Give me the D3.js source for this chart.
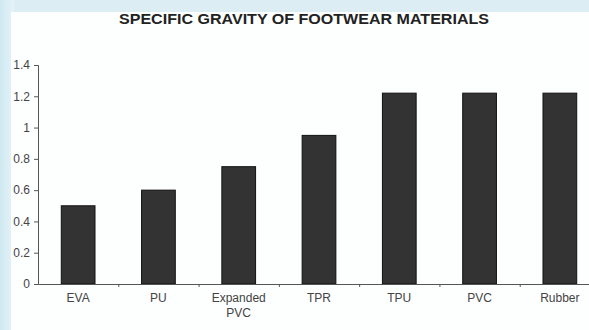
<!DOCTYPE html>
<html><head><meta charset="utf-8">
<script src="https://cdn.jsdelivr.net/npm/d3@7"></script>
<style>
html,body{margin:0;padding:0;background:#d9edf4;}
svg{display:block;}
</style></head>
<body>
<svg id="c" width="589" height="330"></svg>
<script>
const categories = ["EVA","PU","Expanded PVC","TPR","TPU","PVC","Rubber"];
const values = [0.5, 0.6, 0.75, 0.95, 1.22, 1.22, 1.22];
const yTicks = [0,0.2,0.4,0.6,0.8,1,1.2,1.4];
const yTickLabels = ["0","0.2","0.4","0.6","0.8","1","1.2","1.4"];
const title = "SPECIFIC GRAVITY OF FOOTWEAR MATERIALS";

const svg = d3.select("#c");
const defs = svg.append("defs");
const g1 = defs.append("linearGradient").attr("id","lg").attr("x1","0").attr("x2","1");
g1.append("stop").attr("offset","0").attr("stop-color","#cfe8f1");
g1.append("stop").attr("offset","1").attr("stop-color","#e6f3f8");
svg.append("rect").attr("width",589).attr("height",330).attr("fill","#dcedf4");
svg.append("rect").attr("x",0).attr("y",0).attr("width",14).attr("height",330).attr("fill","url(#lg)");
svg.append("rect").attr("x",11).attr("y",12).attr("width",578).attr("height",318).attr("fill","#fdfefe");

const font = "Liberation Sans, Arial, sans-serif";
svg.append("text").attr("x",304).attr("y",24).attr("text-anchor","middle")
  .attr("font-family",font).attr("font-weight","bold")
  .attr("font-size",14).attr("textLength",370).attr("lengthAdjust","spacingAndGlyphs")
  .attr("fill","#222").text(title);

const x = d3.scaleBand().domain(categories).range([38,600]).paddingInner(0.58).paddingOuter(0.29);
const y = d3.scaleLinear().domain([0,1.4]).range([284,65]);

svg.selectAll("rect.bar").data(values).enter().append("rect").attr("class","bar")
  .attr("x",(d,i)=>x(categories[i])).attr("width",x.bandwidth())
  .attr("y",d=>y(d)).attr("height",d=>y(0)-y(d))
  .attr("fill","#333").attr("stroke","#111").attr("stroke-width",1);

const yAxis = d3.axisLeft(y).tickValues(yTicks).tickFormat((d,i)=>yTickLabels[i]).tickSize(4).tickPadding(4);
const ya = svg.append("g").attr("transform","translate(38,0)").call(yAxis);
ya.select(".domain").attr("stroke","#555");
ya.selectAll(".tick line").attr("stroke","#555");
ya.selectAll(".tick text").attr("font-family",font).attr("font-size",12).attr("fill","#444");

const xs = d3.scaleLinear().domain([0,7]).range([38,600]);
const xAxis = d3.axisBottom(xs).tickValues([1,2,3,4,5,6]).tickFormat("").tickSizeInner(3).tickSizeOuter(0);
const xa = svg.append("g").attr("transform","translate(0,284)").call(xAxis);
xa.select(".domain").attr("stroke","#555");
xa.selectAll(".tick line").attr("stroke","#555");

const lab = svg.append("g").selectAll("text").data(categories).enter().append("text")
  .attr("x",d=>x(d)+x.bandwidth()/2).attr("y",302).attr("text-anchor","middle")
  .attr("font-family",font).attr("font-size",12).attr("fill","#444");
lab.each(function(d){
  const parts = d==="Expanded PVC" ? ["Expanded","PVC"] : [d];
  const t = d3.select(this);
  parts.forEach((p,i)=>t.append("tspan").attr("x",x(d)+x.bandwidth()/2).attr("dy",i?15:0).text(p));
});
</script>
</body></html>
